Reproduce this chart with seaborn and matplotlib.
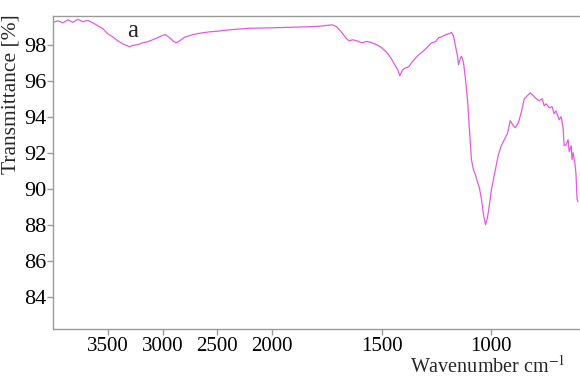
"""
FTIR transmittance spectrum (sample a), wavenumber axis compressed above 2000 cm-1.
"""

import numpy as np
import pandas as pd
import matplotlib
matplotlib.use("Agg")
import matplotlib.pyplot as plt
import seaborn as sns

# ── Data ───────────────────────────────────────────────────────────────────
wavenumber = [
    4000, 3955, 3909, 3864, 3818, 3773, 3727, 3682, 3636, 3591,
    3545, 3500, 3455, 3409, 3364, 3318, 3300, 3273, 3227, 3182,
    3136, 3091, 3045, 3000, 2973, 2936, 2900, 2873, 2845, 2800,
    2727, 2664, 2573, 2509, 2391, 2209, 2027, 1923, 1845, 1786,
    1727, 1705, 1682, 1664, 1650, 1632, 1614, 1591, 1568, 1545,
    1523, 1500, 1477, 1459, 1441, 1427, 1418, 1405, 1391, 1377,
    1364, 1345, 1332, 1314, 1295, 1273, 1255, 1241, 1227, 1209,
    1195, 1182, 1173, 1164, 1155, 1150, 1141, 1136, 1127, 1118,
    1109, 1100, 1091, 1082, 1073, 1064, 1055, 1045, 1036, 1027,
    1018, 1009, 1000, 991, 977, 968, 955, 941, 927, 914,
    900, 891, 877, 864, 850, 836, 823, 809, 795, 782,
    768, 759, 750, 736, 723, 714, 705, 691, 682, 673,
    668, 659, 650, 645, 636, 632, 627, 618, 614, 609,
    605,
]
transmittance = [
    99.25, 99.33, 99.22, 99.39, 99.25, 99.42, 99.28, 99.36, 99.22, 99.06,
    98.89, 98.61, 98.44, 98.22, 98.06, 97.94, 97.89, 97.97, 98.00, 98.11,
    98.17, 98.28, 98.39, 98.53, 98.56, 98.39, 98.19, 98.11, 98.22, 98.42,
    98.56, 98.64, 98.72, 98.75, 98.83, 98.92, 98.94, 98.97, 99.00, 99.03,
    99.11, 99.00, 98.67, 98.39, 98.22, 98.28, 98.22, 98.11, 98.19, 98.11,
    98.00, 97.83, 97.56, 97.28, 96.89, 96.61, 96.28, 96.61, 96.72, 96.78,
    97.00, 97.28, 97.44, 97.61, 97.83, 98.11, 98.17, 98.39, 98.44, 98.56,
    98.61, 98.69, 98.50, 97.94, 97.39, 96.89, 97.28, 97.36, 97.00, 96.06,
    94.94, 93.28, 91.61, 91.06, 90.78, 90.39, 90.06, 89.39, 88.56, 88.00,
    88.39, 89.11, 89.94, 90.50, 91.33, 91.89, 92.39, 92.72, 93.06, 93.78,
    93.50, 93.39, 93.67, 94.22, 95.00, 95.17, 95.33, 95.17, 95.00, 94.89,
    95.00, 94.61, 94.72, 94.50, 94.56, 94.17, 94.33, 93.83, 94.00, 93.39,
    92.39, 92.44, 92.72, 92.06, 92.39, 91.61, 92.00, 91.33, 90.78, 89.39,
    89.28,
]
x_ticks = [3500, 3000, 2500, 2000, 1500, 1000]
y_ticks = [84, 86, 88, 90, 92, 94, 96, 98]

spec = pd.DataFrame({"Wavenumber": wavenumber, "Transmittance": transmittance})


# Half scale above 2000 cm-1, as on the instrument printout
def fwd(w):
    w = np.asarray(w, dtype=float)
    return np.where(w > 2000, 2000 + (w - 2000) / 2, w)


def inv(u):
    u = np.asarray(u, dtype=float)
    return np.where(u > 2000, 2000 + (u - 2000) * 2, u)


# ── Style ──────────────────────────────────────────────────────────────────
sns.set_theme(style="white")
plt.rcParams["font.family"] = ["Liberation Serif", "DejaVu Serif"]
plt.rcParams["mathtext.fontset"] = "stix"

fig = plt.figure(figsize=(5.8, 3.76), dpi=100)
ax = fig.add_axes([0.0914, 0.125, 0.907, 0.8324])

sns.lineplot(data=spec, x="Wavenumber", y="Transmittance", ax=ax,
             sort=False, estimator=None, color="#e25ae2", lw=0.9)

ax.set_xscale("function", functions=(fwd, inv))
ax.set_xlim(4000, 600)
ax.set_ylim(82.2, 99.6)
ax.set_xticks(x_ticks)
ax.set_xticklabels([str(t) for t in x_ticks])
ax.set_yticks(y_ticks)
ax.minorticks_off()

for side in ["left", "bottom", "top"]:
    ax.spines[side].set_color("#9a9a9a")
    ax.spines[side].set_linewidth(1.0)
ax.spines["right"].set_visible(False)
ax.tick_params(axis="both", direction="out", length=4, width=1.0,
               color="#9a9a9a", labelcolor="black", pad=2,
               left=True, bottom=True)
ax.tick_params(axis="x", labelsize=15)
ax.tick_params(axis="y", labelsize=16, pad=0.5)

ax.set_ylabel("Transmittance [%]", fontsize=15.5)
ax.yaxis.set_label_coords(-0.062, 0.75)
ax.set_xlabel("Wavenumber cm$^{-1}$", fontsize=14.5, va="baseline")
ax.xaxis.set_label_coords(0.826, -0.1405)

ax.text(3273, 98.75, "a", fontsize=18, ha="center", va="center")

fig.savefig("out.png", dpi=100)
plt.close()
